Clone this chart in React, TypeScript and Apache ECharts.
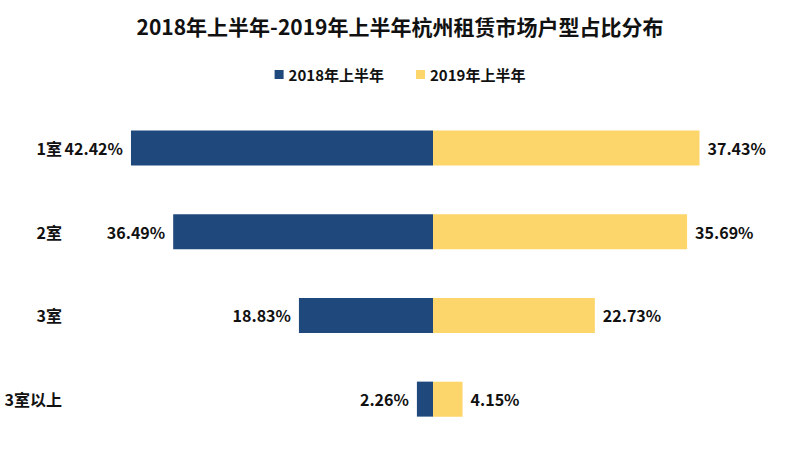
import React, { useEffect, useRef } from "react";
import * as echarts from "echarts";

const categories = ["1室", "2室", "3室", "3室以上"];
const series2018 = [42.42, 36.49, 18.83, 2.26];
const series2019 = [37.43, 35.69, 22.73, 4.15];
const seriesNames = ["2018年上半年", "2019年上半年"];
const titleText = "2018年上半年-2019年上半年杭州租赁市场户型占比分布";

const FONT = "'Noto Sans CJK SC', 'Noto Sans', sans-serif";

export default function App() {
  const ref = useRef<HTMLDivElement>(null);
  useEffect(() => {
    if (!ref.current) return;
    const chart = echarts.init(ref.current, null, { renderer: "svg" });
    const labelStyle = {
      show: true,
      fontFamily: FONT,
      fontWeight: "bold" as const,
      fontSize: 16,
      color: "#111",
      distance: 8,
    };
    chart.setOption({
      animation: false,
      backgroundColor: "#ffffff",
      title: {
        text: titleText,
        left: "center",
        top: 10,
        textStyle: { fontFamily: FONT, fontWeight: "bold", fontSize: 21, color: "#111" },
      },
      legend: {
        top: 62,
        left: "center",
        itemWidth: 9,
        itemHeight: 9,
        itemGap: 32,
        icon: "rect",
        data: seriesNames,
        textStyle: { fontFamily: FONT, fontWeight: "bold", fontSize: 15, color: "#111" },
      },
      grid: { left: 77, right: 11, top: 106, height: 335, containLabel: false },
      xAxis: {
        type: "value",
        min: -50,
        max: 50,
        show: false,
      },
      yAxis: {
        type: "category",
        data: categories,
        inverse: true,
        axisLine: { show: false },
        axisTick: { show: false },
        splitLine: { show: false },
        axisLabel: {
          margin: 15,
          fontFamily: FONT,
          fontWeight: "bold",
          fontSize: 16,
          color: "#111",
        },
      },
      series: [
        {
          name: seriesNames[0],
          type: "bar",
          stack: "total",
          barWidth: 35,
          itemStyle: { color: "#1f487c" },
          label: {
            ...labelStyle,
            position: "left",
            formatter: (p: any) => Math.abs(p.value).toFixed(2) + "%",
          },
          data: series2018.map((v) => -v),
        },
        {
          name: seriesNames[1],
          type: "bar",
          stack: "total",
          barWidth: 35,
          itemStyle: { color: "#fcd66a" },
          label: {
            ...labelStyle,
            position: "right",
            formatter: (p: any) => Number(p.value).toFixed(2) + "%",
          },
          data: series2019,
        },
      ],
    });
    return () => chart.dispose();
  }, []);
  return (
    <div
      ref={ref}
      style={{ position: "fixed", left: 0, top: 0, width: 800, height: 461, background: "#fff" }}
    />
  );
}
